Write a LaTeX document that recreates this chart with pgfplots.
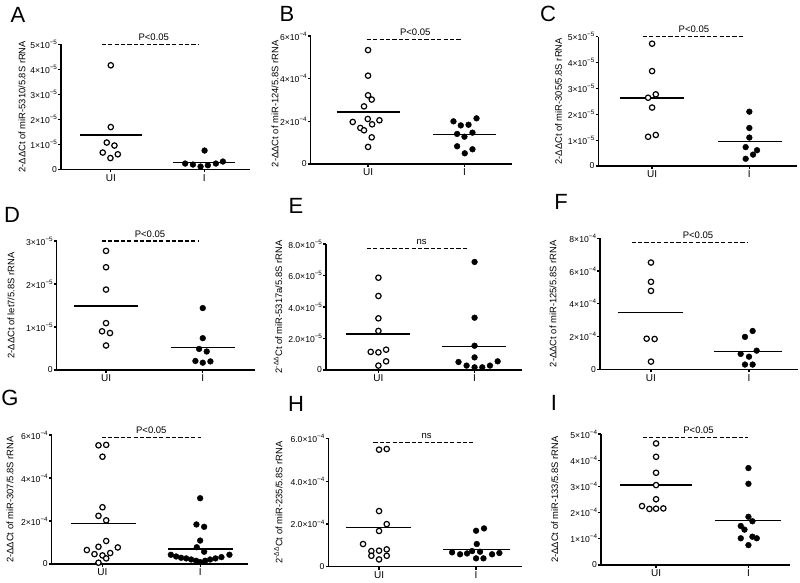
\documentclass[border=0pt]{standalone}
\usepackage{fontspec}
\setmainfont{Liberation Sans}
\usepackage{pgfplots}
\pgfplotsset{compat=1.18}
\newcommand{\sci}[2]{#1×10\raisebox{0.45em}{\fontsize{6.3}{7}\selectfont −#2}}
\tikzset{ptext/.style={font=\fontsize{9.5}{10}\selectfont, anchor=base, yshift=3.8pt},
 letter/.style={font=\fontsize{22}{22}\selectfont}}
\pgfplotsset{
 panel/.style={
  scale only axis, clip=false,
  axis x line*=bottom, axis y line*=left,
  axis line style={line width=1.4pt},
  every tick/.style={black, line width=1.2pt},
  major tick length=2.8pt,
  tick align=outside,
  xtick={0,1}, xticklabels={UI,I},
  ymin=0, scaled y ticks=false,
  tick label style={font=\fontsize{8.6}{10}\selectfont},
  xticklabel style={font=\fontsize{10}{11}\selectfont, inner ysep=2pt},
  yticklabel style={inner xsep=1pt},
  label style={font=\fontsize{9.4}{11}\selectfont},
  ylabel style={anchor=center},
 },
 ui/.style={only marks, mark=*, mark size=2.7pt, mark options={fill=white, draw=black, line width=1.2pt}},
 inf/.style={only marks, mark=*, mark size=2.9pt, mark options={fill=black, draw=black}},
 mean/.style={no marks, line width=1.4pt, black},
 sig/.style={no marks, line width=1.4pt, black, dash pattern=on 4.2pt off 2.2pt},
}
\begin{document}
\begin{tikzpicture}
\useasboundingbox (0,0) rectangle (800pt,582pt);
\node[letter] at (18pt,567pt) {A};
\node[letter] at (287pt,568pt) {B};
\node[letter] at (548pt,568pt) {C};
\node[letter] at (12pt,367pt) {D};
\node[letter] at (296pt,376pt) {E};
\node[letter] at (561pt,380pt) {F};
\node[letter] at (10pt,184pt) {G};
\node[letter] at (296pt,178pt) {H};
\node[letter] at (554pt,179pt) {I};

% ---------- A ----------
\begin{axis}[panel, at={(61pt,412.7pt)}, anchor=south west, width=189pt, height=125pt,
 xmin=-0.533, xmax=1.49, ymax=5e-5,
 ytick={0,1e-5,2e-5,3e-5,4e-5,5e-5},
 yticklabels={0,\sci{1}{5},\sci{2}{5},\sci{3}{5},\sci{4}{5},\sci{5}{5}},
 ylabel={2-ΔΔCt of miR-5310/5.8S rRNA},
 ylabel style={at={(axis description cs:-0.206,0.5)}}]
\addplot[sig] coordinates {(-0.096,5e-5) (0.946,5e-5)};
\node[ptext] at (axis cs:0.46,5e-5) {P<0.05};
\addplot[mean] coordinates {(-0.33,1.37e-5) (0.33,1.37e-5)};
\addplot[mean] coordinates {(0.67,0.28e-5) (1.33,0.28e-5)};
\addplot[ui] coordinates {(0,4.16e-5) (0,1.69e-5) (-0.043,1.07e-5) (0.039,0.95e-5) (-0.086,0.67e-5) (0.075,0.60e-5) (-0.004,0.45e-5)};
\addplot[inf] coordinates {(1.004,0.75e-5) (0.796,0.23e-5) (0.879,0.19e-5) (0.961,0.11e-5) (1.039,0.16e-5) (1.125,0.23e-5) (1.2,0.31e-5)};
\end{axis}

% ---------- B ----------
\begin{axis}[panel, at={(310.7pt,418pt)}, anchor=south west, width=201pt, height=128pt,
 xmin=-0.595, xmax=1.49, ymax=6e-4,
 ytick={0,2e-4,4e-4,6e-4},
 yticklabels={0,\sci{2}{4},\sci{4}{4},\sci{6}{4}},
 ylabel={2-ΔΔCt of miR-124/5.8S rRNA},
 ylabel style={at={(axis description cs:-0.178,0.47)}}]
\addplot[sig] coordinates {(-0.014,5.84e-4) (0.972,5.84e-4)};
\node[ptext] at (axis cs:0.49,5.84e-4) {P<0.05};
\addplot[mean] coordinates {(-0.325,2.44e-4) (0.33,2.44e-4)};
\addplot[mean] coordinates {(0.675,1.375e-4) (1.33,1.375e-4)};
\addplot[ui] coordinates {(0,5.34e-4) (0,4.14e-4) (0,3.22e-4) (0.038,3.02e-4) (-0.042,2.70e-4) (-0.003,2.11e-4) (-0.159,1.97e-4) (0.118,2.05e-4) (-0.08,1.69e-4) (-0.042,1.58e-4) (0.042,1.86e-4) (0.038,1.25e-4) (0,0.80e-4)};
\addplot[inf] coordinates {(0.886,2.0e-4) (0.962,1.81e-4) (1.042,1.84e-4) (1.125,2.14e-4) (0.924,1.41e-4) (1.0,1.28e-4) (1.083,1.47e-4) (0.924,0.83e-4) (1.083,0.69e-4) (1.003,0.5e-4)};
\end{axis}

% ---------- C ----------
\begin{axis}[panel, at={(598.3pt,416pt)}, anchor=south west, width=198.7pt, height=129.3pt,
 xmin=-0.553, xmax=1.49, ymax=5e-5,
 ytick={0,1e-5,2e-5,3e-5,4e-5,5e-5},
 yticklabels={0,\sci{1}{5},\sci{2}{5},\sci{3}{5},\sci{4}{5},\sci{5}{5}},
 ylabel={2-ΔΔCt of miR-305/5.8S rRNA},
 ylabel style={at={(axis description cs:-0.2,0.5)}}]
\addplot[sig] coordinates {(-0.096,5e-5) (0.942,5e-5)};
\node[ptext] at (axis cs:0.43,5e-5) {P<0.05};
\addplot[mean] coordinates {(-0.33,2.63e-5) (0.33,2.63e-5)};
\addplot[mean] coordinates {(0.674,0.95e-5) (1.337,0.95e-5)};
\addplot[ui] coordinates {(0,4.73e-5) (0,3.67e-5) (0.038,2.77e-5) (-0.041,2.64e-5) (0,2.26e-5) (-0.041,1.13e-5) (0.038,1.20e-5)};
\addplot[inf] coordinates {(1,2.10e-5) (1,1.47e-5) (1,1.10e-5) (0.962,0.73e-5) (1.079,0.61e-5) (1.038,0.44e-5) (0.962,0.28e-5)};
\end{axis}

% ---------- D ----------
\begin{axis}[panel, at={(56.7pt,212pt)}, anchor=south west, width=198.3pt, height=129pt,
 xmin=-0.51, xmax=1.54, ymax=3e-5,
 ytick={0,1e-5,2e-5,3e-5},
 yticklabels={0,\sci{1}{5},\sci{2}{5},\sci{3}{5}},
 ylabel={2-ΔΔCt of let7/5.8S rRNA},
 ylabel style={at={(axis description cs:-0.23,0.5)}}]
\addplot[sig] coordinates {(-0.045,3e-5) (0.948,3e-5)};
\node[ptext] at (axis cs:0.455,3e-5) {P<0.05};
\addplot[mean] coordinates {(-0.331,1.49e-5) (0.328,1.49e-5)};
\addplot[mean] coordinates {(0.669,0.53e-5) (1.338,0.53e-5)};
\addplot[ui] coordinates {(0,2.77e-5) (0,2.39e-5) (0,1.87e-5) (0,1.09e-5) (-0.041,0.90e-5) (0.041,0.86e-5) (0,0.57e-5)};
\addplot[inf] coordinates {(1,1.44e-5) (1,0.74e-5) (0.962,0.49e-5) (1.041,0.43e-5) (0.924,0.21e-5) (1,0.17e-5) (1.079,0.20e-5)};
\end{axis}

% ---------- E ----------
\begin{axis}[panel, at={(326pt,212pt)}, anchor=south west, width=195.7pt, height=126pt,
 xmin=-0.545, xmax=1.49, ymax=8e-5,
 ytick={0,2e-5,4e-5,6e-5,8e-5},
 yticklabels={0,\sci{2.0}{5},\sci{4.0}{5},\sci{6.0}{5},\sci{8.0}{5}},
 ylabel={2\textsuperscript{-ΔΔ}Ct of miR-5317a/5.8S rRNA},
 ylabel style={at={(axis description cs:-0.245,0.5)}}]
\addplot[sig] coordinates {(-0.12,7.7e-5) (0.94,7.7e-5)};
\node[ptext] at (axis cs:0.45,7.7e-5) {ns};
\addplot[mean] coordinates {(-0.337,2.29e-5) (0.33,2.29e-5)};
\addplot[mean] coordinates {(0.66,1.48e-5) (1.326,1.48e-5)};
\addplot[ui] coordinates {(0,5.86e-5) (0,4.70e-5) (0,3.28e-5) (0,2.48e-5) (-0.08,1.15e-5) (0,1.12e-5) (0.08,1.29e-5) (0.08,0.55e-5) (0,0.28e-5)};
\addplot[inf] coordinates {(1,6.86e-5) (1,3.32e-5) (1,1.54e-5) (1,0.80e-5) (0.833,0.51e-5) (0.917,0.28e-5) (1,0.17e-5) (1.08,0.17e-5) (1.16,0.28e-5) (1.24,0.55e-5)};
\end{axis}

% ---------- F ----------
\begin{axis}[panel, at={(600pt,212.7pt)}, anchor=south west, width=198pt, height=131pt,
 xmin=-0.52, xmax=1.5, ymax=8e-4,
 ytick={0,2e-4,4e-4,6e-4,8e-4},
 yticklabels={0,\sci{2}{4},\sci{4}{4},\sci{6}{4},\sci{8}{4}},
 ylabel={2-ΔΔCt of miR-125/5.8S rRNA},
 ylabel style={at={(axis description cs:-0.237,0.5)}}]
\addplot[sig] coordinates {(-0.197,7.74e-4) (0.993,7.74e-4)};
\node[ptext] at (axis cs:0.48,7.74e-4) {P<0.05};
\addplot[mean] coordinates {(-0.333,3.46e-4) (0.33,3.46e-4)};
\addplot[mean] coordinates {(0.646,1.08e-4) (1.333,1.08e-4)};
\addplot[ui] coordinates {(0,6.52e-4) (0,5.34e-4) (0,4.79e-4) (-0.044,1.87e-4) (0.037,1.85e-4) (0,0.47e-4)};
\addplot[inf] coordinates {(1.037,2.34e-4) (0.959,1.98e-4) (0.915,0.94e-4) (1.078,1.14e-4) (1,0.77e-4) (0.959,0.29e-4) (1.037,0.29e-4)};
\end{axis}

% ---------- G ----------
\begin{axis}[panel, at={(51.7pt,18pt)}, anchor=south west, width=196.3pt, height=129pt,
 xmin=-0.52, xmax=1.49, ymax=6e-4,
 ytick={0,2e-4,4e-4,6e-4},
 yticklabels={0,\sci{2}{4},\sci{4}{4},\sci{6}{4}},
 ylabel={2-ΔΔCt of miR-307/5.8S rRNA},
 ylabel style={at={(axis description cs:-0.212,0.5)}}]
\addplot[sig] coordinates {(-0.01,5.88e-4) (1.007,5.88e-4)};
\node[ptext] at (axis cs:0.5,5.88e-4) {P<0.05};
\addplot[mean] coordinates {(-0.32,1.87e-4) (0.34,1.87e-4)};
\addplot[mean] coordinates {(0.675,0.705e-4) (1.335,0.705e-4)};
\addplot[ui] coordinates {(-0.041,5.52e-4) (0.038,5.54e-4) (0,4.99e-4) (0,2.64e-4) (-0.041,2.24e-4) (0.038,2.03e-4) (0.038,1.07e-4) (-0.041,0.80e-4) (-0.16,0.65e-4) (-0.082,0.46e-4) (0,0.40e-4) (0.079,0.51e-4) (0.157,0.77e-4) (0.038,0.26e-4) (-0.041,0.06e-4)};
\addplot[inf] coordinates {(1,3.06e-4) (0.962,1.84e-4) (1.041,1.73e-4) (1,1.09e-4) (0.966,0.78e-4) (1.041,0.57e-4) (0.70,0.43e-4) (0.754,0.35e-4) (0.805,0.29e-4) (0.857,0.26e-4) (0.908,0.21e-4) (0.959,0.15e-4) (1.0,0.09e-4) (1.051,0.15e-4) (1.102,0.21e-4) (1.157,0.26e-4) (1.218,0.32e-4) (1.30,0.43e-4)};
\end{axis}

% ---------- H ----------
\begin{axis}[panel, at={(328.3pt,15.3pt)}, anchor=south west, width=193.4pt, height=128.4pt,
 xmin=-0.523, xmax=1.47, ymax=6e-4,
 ytick={0,2e-4,4e-4,6e-4},
 yticklabels={0,\sci{2.0}{4},\sci{4.0}{4},\sci{6.0}{4}},
 ylabel={2\textsuperscript{-ΔΔ}Ct of miR-235/5.8S rRNA},
 ylabel style={at={(axis description cs:-0.259,0.5)}}]
\addplot[sig] coordinates {(-0.058,5.8e-4) (0.973,5.8e-4)};
\node[ptext] at (axis cs:0.49,5.8e-4) {ns};
\addplot[mean] coordinates {(-0.34,1.82e-4) (0.33,1.82e-4)};
\addplot[mean] coordinates {(0.66,0.81e-4) (1.35,0.81e-4)};
\addplot[ui] coordinates {(0,5.47e-4) (0.079,5.50e-4) (0,2.60e-4) (0.079,1.99e-4) (0,1.67e-4) (-0.165,1.06e-4) (-0.079,0.73e-4) (0,0.75e-4) (0.079,0.81e-4) (-0.079,0.51e-4) (0.079,0.51e-4) (0,0.34e-4)};
\addplot[inf] coordinates {(1,1.68e-4) (1.082,1.79e-4) (1.007,1.06e-4) (0.753,0.67e-4) (0.835,0.58e-4) (0.907,0.62e-4) (0.959,0.73e-4) (1.041,0.70e-4) (1.165,0.58e-4) (1.24,0.64e-4) (1,0.39e-4) (1.076,0.39e-4)};
\end{axis}

% ---------- I ----------
\begin{axis}[panel, at={(601pt,17pt)}, anchor=south west, width=189pt, height=131pt,
 xmin=-0.596, xmax=1.45, ymax=5e-4,
 ytick={0,1e-4,2e-4,3e-4,4e-4,5e-4},
 yticklabels={0,\sci{1}{4},\sci{2}{4},\sci{3}{4},\sci{4}{4},\sci{5}{4}},
 ylabel={2-ΔΔCt of miR-133/5.8S rRNA},
 ylabel style={at={(axis description cs:-0.245,0.5)}}]
\addplot[sig] coordinates {(-0.144,4.86e-4) (1.0,4.86e-4)};
\node[ptext] at (axis cs:0.46,4.86e-4) {P<0.05};
\addplot[mean] coordinates {(-0.39,3.05e-4) (0.386,3.05e-4)};
\addplot[mean] coordinates {(0.639,1.70e-4) (1.35,1.70e-4)};
\addplot[ui] coordinates {(0,4.64e-4) (0,4.13e-4) (0,3.52e-4) (0,3.05e-4) (0,2.51e-4) (-0.152,2.25e-4) (-0.072,2.14e-4) (0,2.15e-4) (0.079,2.16e-4)};
\addplot[inf] coordinates {(1,3.70e-4) (1,3.10e-4) (1,1.84e-4) (1.043,1.67e-4) (0.917,1.49e-4) (0.957,1.35e-4) (0.917,1.02e-4) (1.043,1.08e-4) (1.090,1.02e-4) (1,0.76e-4)};
\end{axis}
\end{tikzpicture}
\end{document}
